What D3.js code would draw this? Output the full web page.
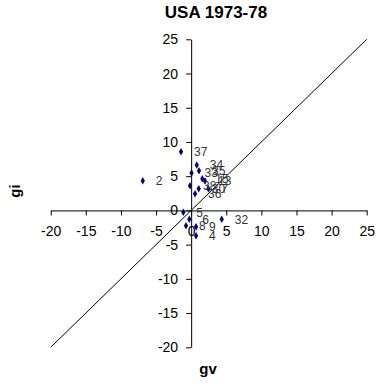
<!DOCTYPE html>
<html>
<head>
<meta charset="utf-8">
<script src="https://cdn.jsdelivr.net/npm/d3@7"></script>
<style>
  html, body { margin: 0; padding: 0; background: #fff; }
  svg { display: block; font-family: "Liberation Sans", Arial, sans-serif; }
</style>
</head>
<body>
<svg id="chart" width="380" height="389"></svg>
<script>
// Growth of value (gv) vs growth of input (gi), labelled by sector number
const labels = ["37", "2", "34", "35", "33", "15", "13", "38", "30", "7", "36", "5", "6", "8", "9", "4", "32"];
const gv     = [-1.44, -6.89, 0.80, 1.12, 0.06, 1.59, 1.98, -0.16, 1.08, 2.45, 0.56, -1.11, -0.26, -0.73, 0.70, 0.70, 4.36];
const gi     = [8.58, 4.34, 6.63, 5.80, 5.46, 4.63, 4.30, 3.61, 3.17, 3.17, 2.44, -0.28, -1.30, -2.24, -2.38, -3.70, -1.30];
const ticks  = [-20, -15, -10, -5, 0, 5, 10, 15, 20, 25];
const domain = [-20, 25];

const svg = d3.select("#chart");
const x = d3.scaleLinear().domain(domain).range([50.7, 366.7]);
const y = d3.scaleLinear().domain(domain).range([347.3, 39.3]);

// Title
svg.append("text")
  .attr("x", 216).attr("y", 18.3)
  .attr("text-anchor", "middle")
  .attr("font-size", 17).attr("font-weight", "bold")
  .text("USA 1973-78");

// 45-degree reference line (gi = gv)
svg.append("line")
  .attr("x1", x(domain[0])).attr("y1", y(domain[0]))
  .attr("x2", x(domain[1])).attr("y2", y(domain[1]))
  .attr("stroke", "#000").attr("stroke-width", 1);

// Axes crossing at the origin
const fmt = d => String(d);
const xAxis = svg.append("g")
  .attr("transform", `translate(0,${y(0)})`)
  .call(d3.axisBottom(x).tickValues(ticks).tickFormat(fmt)
    .tickSize(5).tickSizeOuter(0).tickPadding(11));
const yAxis = svg.append("g")
  .attr("transform", `translate(${x(0)},0)`)
  .call(d3.axisLeft(y).tickValues(ticks).tickFormat(fmt)
    .tickSize(5).tickSizeOuter(0).tickPadding(8));

[xAxis, yAxis].forEach(g => {
  g.selectAll("path.domain, line").attr("stroke", "#000").attr("stroke-width", 1);
  g.selectAll("text").attr("fill", "#000").attr("font-size", 14)
    .attr("font-family", "Liberation Sans, Arial, sans-serif");
});

// Axis titles
svg.append("text")
  .attr("x", 208).attr("y", 374)
  .attr("text-anchor", "middle")
  .attr("font-size", 15).attr("font-weight", "bold")
  .text("gv");
svg.append("text")
  .attr("transform", `translate(20,191) rotate(-90)`)
  .attr("text-anchor", "middle")
  .attr("font-size", 15).attr("font-weight", "bold")
  .text("gi");

// Points
const pts = labels.map((l, i) => ({ label: l, gv: gv[i], gi: gi[i] }));
svg.append("g").selectAll("path")
  .data(pts).join("path")
  .attr("transform", d => `translate(${x(d.gv)},${y(d.gi)})`)
  .attr("d", d3.symbol(d3.symbolDiamond, 16))
  .attr("fill", "#000080");

// Point labels
svg.append("g").selectAll("text")
  .data(pts).join("text")
  .attr("x", d => x(d.gv) + 13)
  .attr("y", d => y(d.gi))
  .attr("dy", "0.35em")
  .attr("font-size", 12)
  .attr("fill", "#333")
  .text(d => d.label);
</script>
</body>
</html>
